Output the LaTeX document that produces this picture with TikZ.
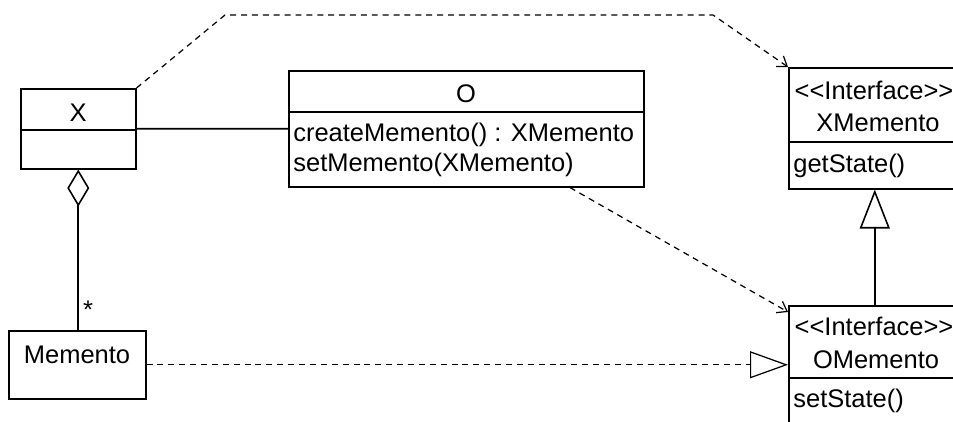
\documentclass[tikz,border=0pt]{standalone}
\usepackage{fontspec}
\newfontfamily\umlfont{Liberation Sans}
\usetikzlibrary{arrows.meta, positioning, calc}

\begin{document}
\begin{tikzpicture}[x=0.02cm, y=-0.02cm,
    umlbox/.style={rectangle, draw, line width=0.9pt, inner sep=0pt, anchor=north west},
    txt/.style={inner sep=0pt, font=\umlfont\fontsize{14.5}{17}\selectfont},
    cname/.style={txt, anchor=base},
    member/.style={txt, anchor=base west},
    divider/.style={line width=0.9pt},
    assoc/.style={line width=0.9pt},
    aggr/.style={{Diamond[open, length=0.74cm, width=0.44cm]}-, line width=0.9pt},
    inherit/.style={-{Triangle[open, length=0.78cm, width=0.6cm]}, line width=0.9pt},
    realize/.style={-{Triangle[open, length=0.76cm, width=0.54cm]}, line width=0.7pt, dash pattern=on 3.4pt off 2.8pt},
    dep/.style={-{Straight Barb[length=0.18cm, width=0.26cm]}, line width=0.7pt, dash pattern=on 3.4pt off 2.8pt}
]
\useasboundingbox (0,0) rectangle (953,422);
\clip (0,0) rectangle (953,422);

% Class boxes
\node[umlbox, minimum width=2.3cm, minimum height=1.6cm] (X) at (20,88) {};
\node[umlbox, minimum width=2.74cm, minimum height=1.36cm] (mem) at (8,330) {};
\node[umlbox, minimum width=7.1cm, minimum height=2.32cm] (O) at (288,70) {};
\node[umlbox, minimum width=3.44cm, minimum height=2.42cm] (xm) at (788,67) {};
\node[umlbox, minimum width=3.44cm, minimum height=2.8cm] (om) at (788,305) {};

% Compartments
\draw[divider] ($(X.north west)+(0,42)$) -- ($(X.north east)+(0,42)$);
\draw[divider] ($(O.north west)+(0,42)$) -- ($(O.north east)+(0,42)$);
\draw[divider] ($(xm.north west)+(0,75)$) -- ($(xm.north east)+(0,75)$);
\draw[divider] ($(om.north west)+(0,73)$) -- ($(om.north east)+(0,73)$);

% Texts
\node[cname] (Xname) at (78,122) {X};
\node[cname] (memname) at (77,363) {Memento};
\node[cname] (Oname) at (466,103) {O};
\node[member] (create) at (293,142) {createMemento() : XMemento};
\node[member] (setmem) at (293,172) {setMemento(XMemento)};
\node[cname] (xmster) at (874,100) {<<Interface>>};
\node[cname] (xmname) at (878,132) {XMemento};
\node[member] (getst) at (793,173) {getState()};
\node[cname] (omster) at (874,335) {<<Interface>>};
\node[cname] (omname) at (876,368) {OMemento};
\node[member] (setst) at (793,407) {setState()};

% Bends
\coordinate (bendA) at (225,15);
\coordinate (bendB) at (713,15);

% Arrows
\draw[assoc] (X) -- (O);
\draw[aggr] (X.south) -- (X.south |- mem.north);
\node[txt, anchor=base] (mult) at (88,318) {*};
\draw[realize] (mem) -- (om.west |- mem);
\draw[inherit] (om.north) -- (xm.south);
\draw[dep] (X.north east) -- (bendA) -- (bendB) -- (xm.north west);
\draw[dep] ($(O.south west)+(282,0)$) -- ($(om.north west)+(0,7)$);
\end{tikzpicture}
\end{document}
